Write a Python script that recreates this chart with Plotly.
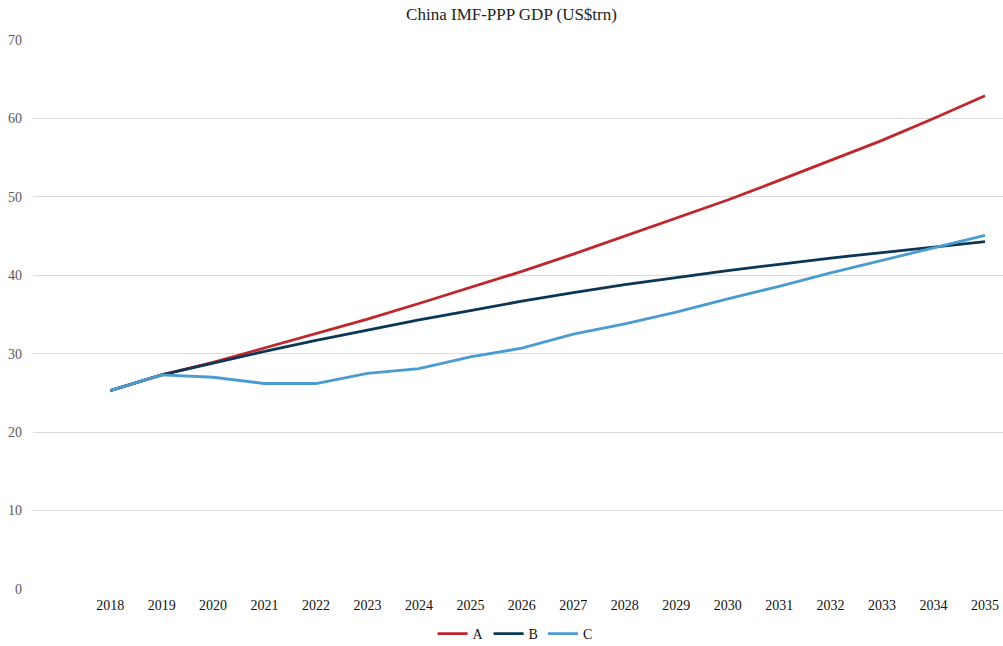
import plotly.graph_objects as go

years = list(range(2018, 2036))
series_a = [25.3, 27.3, 28.9, 30.7, 32.5, 34.4, 36.4, 38.4, 40.5, 42.7, 45.0, 47.2, 49.6, 52.1, 54.6, 57.2, 60.0, 62.9]
series_b = [25.3, 27.3, 28.8, 30.3, 31.7, 33.0, 34.3, 35.5, 36.7, 37.8, 38.8, 39.7, 40.6, 41.4, 42.2, 42.9, 43.6, 44.3]
series_c = [25.3, 27.3, 27.0, 26.2, 26.2, 27.5, 28.1, 29.6, 30.7, 32.5, 33.8, 35.3, 37.0, 38.6, 40.3, 41.9, 43.5, 45.1]

names = ["A", "B", "C"]
colors = ["#c0272d", "#0b3656", "#4a9bd1"]
y_ticks = [0, 10, 20, 30, 40, 50, 60, 70]

fig = go.Figure()
for name, vals, col in zip(names, [series_a, series_b, series_c], colors):
    fig.add_trace(go.Scatter(x=years, y=vals, mode="lines", name=name,
                             line=dict(color=col, width=2.8)))

fig.update_layout(
    width=1003, height=646,
    paper_bgcolor="white", plot_bgcolor="white",
    margin=dict(l=33, r=0, t=40, b=57, autoexpand=False),
    font=dict(family="Liberation Serif, Times New Roman, serif", size=14, color="#222"),
    title=dict(text="China IMF-PPP GDP (US$trn)", x=0.51, xanchor="center", y=0.978, yanchor="middle",
               font=dict(size=17, color="#222")),
    xaxis=dict(range=[2016.5, 2035.35], tickmode="array", tickvals=years,
               ticktext=[str(y) for y in years], showgrid=False, zeroline=False,
               showline=False, ticks="", tickfont=dict(size=14, color="#111"),
               ticklabelstandoff=6, automargin=False),
    yaxis=dict(range=[0, 70], tickmode="array", tickvals=y_ticks, showgrid=True,
               gridcolor="#dcdcdc", gridwidth=1, zeroline=False, showline=False,
               ticks="", tickfont=dict(size=14, color="#595959"), ticklabelstandoff=10,
               automargin=False),
    legend=dict(orientation="h", x=0.497, xanchor="center", y=0.0186, yref="container",
                yanchor="middle", font=dict(size=14, color="#111"), itemwidth=30,
                tracegroupgap=0),
    showlegend=True,
)

fig.write_html("out.html", post_script="document.body.style.margin='0px';",
               config={"displayModeBar": False})
